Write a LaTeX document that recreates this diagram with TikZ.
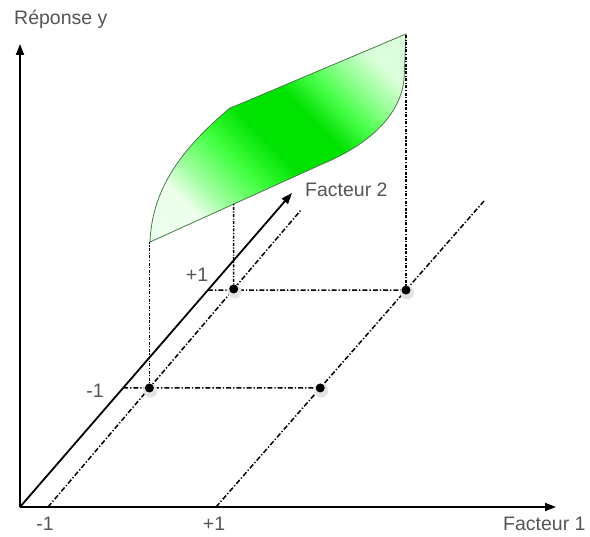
\documentclass[tikz,border=0pt]{standalone}
\usepackage{fontspec}
\setmainfont{Liberation Sans}
\usetikzlibrary{arrows.meta,calc}
\definecolor{txt}{HTML}{555555}
\definecolor{brightgreen}{RGB}{0,226,0}
\definecolor{edgegreen}{RGB}{70,125,70}
\pgfdeclarehorizontalshading{surfshade}{100bp}{%
  color(0bp)=(green!5); color(26bp)=(green!8); color(32bp)=(green!40);
  color(40bp)=(green!75!white); color(48bp)=(brightgreen); color(58bp)=(brightgreen);
  color(65bp)=(green!70!white); color(71bp)=(green!40); color(77bp)=(green!14); color(100bp)=(green!14)}
\begin{document}
\begin{tikzpicture}[x=1pt,y=-1pt,
  axis/.style={line width=1.8pt,-{Triangle[length=11pt,width=8pt]}},
  dd/.style={line width=1.5pt,dash pattern=on 5pt off 2pt on 1.3pt off 2pt},
  vd/.style={line width=1.5pt,dash pattern=on 3pt off 1.5pt on 1.2pt off 1.5pt},
  lab/.style={text=txt,font=\fontsize{19.5}{22}\selectfont,inner sep=0pt},
  ptdot/.style={circle,fill=black,inner sep=0pt,minimum size=9pt},
  shad/.style={fill=gray!22}]
\useasboundingbox (0,0) rectangle (590,537);
\fill[white] (0,0) rectangle (590,537);
% key points
\coordinate (O) at (20,507);
\coordinate (Yt) at (20,44);
\coordinate (Xt) at (556,507);
\coordinate (Xm) at (284,507);
\coordinate (F2t) at (292,193);
\coordinate (b1) at (48,507);
\coordinate (t1) at (301,210);
\coordinate (b2) at (216,507);
\coordinate (t2) at (484,201);
\coordinate (cP1) at ($(b1)!0.4007!(t1)$);
\coordinate (cP3) at ($(b1)!0.734!(t1)$);
\coordinate (cP2) at ($(b2)!0.389!(t2)$);
\coordinate (cP4) at ($(b2)!0.709!(t2)$);
\coordinate (h1) at ($(O)!0.379!(F2t)$);
\coordinate (h3) at ($(O)!0.691!(F2t)$);
\coordinate (A) at (150,242);
\coordinate (s3) at (233.7,204);
\coordinate (T) at (406,34);
% response surface
\draw[edgegreen,line width=0.8pt,shading=surfshade,shading angle=45]
  (A) -- (320,165) -- (327,162) .. controls (370,143) and (400,115) .. (404,80)
  -- (T) -- (240,104) -- (230,108) .. controls (180,150) and (152,190) .. (A) -- cycle;
% axes
\draw[axis] (O) -- (Yt);
\draw[axis] (O) -- (Xt);
\draw[line width=2.8pt] (O) -- (Xm);
\draw[axis] (O) -- (F2t);
% design lines
\draw[dd] (b1) -- (t1);
\draw[dd] (b2) -- (t2);
\draw[dd] (h1) -- (cP2);
\draw[dd] (h3) -- (cP4);
\draw[vd] (cP1) -- (cP1 |- A);
\draw[vd] (cP3) -- (s3);
\draw[vd] (cP4) -- (cP4 |- T);
% points
\foreach \p in {cP1,cP2,cP3,cP4}{\fill[shad] ($(\p)+(1,2.5)$) circle (7pt);}
\node[ptdot] (p1) at (cP1) {};
\node[ptdot] (p2) at (cP2) {};
\node[ptdot] (p3) at (cP3) {};
\node[ptdot] (p4) at (cP4) {};
% labels
\node[lab,anchor=base west] (ly) at (14,25) {Réponse y};
\node[lab,anchor=west] (lf2) at (305,190) {Facteur 2};
\node[lab,anchor=base west] (lf1) at (503,531) {Facteur 1};
\node[lab] (lm1) at (45,524) {-1};
\node[lab] (lp1) at (214,524) {+1};
\node[lab] (lm1b) at (95,391) {-1};
\node[lab] (lp1b) at (197,275) {+1};
\end{tikzpicture}
\end{document}
